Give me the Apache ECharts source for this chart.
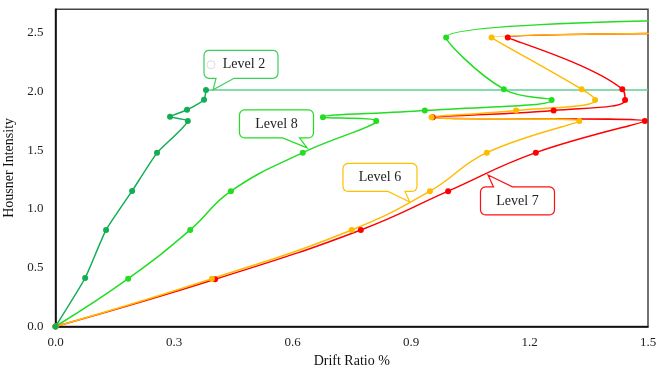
<!DOCTYPE html>
<html>
<head>
<meta charset="utf-8">
<script src="https://cdn.jsdelivr.net/npm/echarts@6/dist/echarts.min.js"></script>
<style>html,body{margin:0;padding:0;background:#fff}#c{width:657px;height:368px}</style>
</head>
<body>
<div id="c"></div>
<script>
// Data (x: drift ratio %, y: Housner intensity)
// last point of levels 8/6/7 lies beyond the visible axis (clipped at 1.5)
var level2X = [0, 0.075, 0.128, 0.194, 0.257, 0.335, 0.29, 0.333, 0.376, 0.381];
var level2Y = [0, 0.413, 0.822, 1.154, 1.478, 1.75, 1.785, 1.844, 1.93, 2.014];
var level2LineX = [0.381, 1.5];
var level2LineY = [2.014, 2.014];
var level8X = [0, 0.184, 0.341, 0.444, 0.626, 0.812, 0.677, 0.935, 1.256, 1.135, 0.989, 2.0];
var level8Y = [0, 0.407, 0.822, 1.152, 1.48, 1.75, 1.782, 1.838, 1.929, 2.02, 2.46, 2.62];
var level6X = [0, 0.396, 0.75, 0.948, 1.092, 1.326, 0.952, 1.166, 1.366, 1.332, 1.104, 2.0];
var level6Y = [0, 0.407, 0.822, 1.152, 1.48, 1.75, 1.782, 1.838, 1.929, 2.02, 2.46, 2.5];
var level7X = [0, 0.404, 0.773, 0.994, 1.216, 1.492, 0.955, 1.261, 1.442, 1.435, 1.145, 2.0];
var level7Y = [0, 0.402, 0.822, 1.152, 1.48, 1.75, 1.782, 1.838, 1.929, 2.02, 2.46, 2.5];
var xTicks = [0, 0.3, 0.6, 0.9, 1.2, 1.5];
var yTicks = [0, 0.5, 1.0, 1.5, 2.0, 2.5];

// callouts: label, box centre (data), tip (data), wedge side
var callouts = [
  {text: 'Level 2', cx: 0.4696, cy: 2.232, tx: 0.399, ty: 2.015, side: 'bottom', a: 12, b: 30, color: '#3ccf5a', ring: true},
  {text: 'Level 8', cx: 0.5595, cy: 1.725, tx: 0.637, ty: 1.52, side: 'bottom', a: 43, b: 60, color: '#22dd22'},
  {text: 'Level 6', cx: 0.8215, cy: 1.269, tx: 0.897, ty: 1.06, side: 'bottom', a: 45, b: 62, color: '#ffc000'},
  {text: 'Level 7', cx: 1.1696, cy: 1.069, tx: 1.095, ty: 1.29, side: 'top', a: 13, b: 32, color: '#ff1010'}
];

function pts(xs, ys, lastNoSymbol) {
  return xs.map(function (x, i) {
    var d = {value: [x, ys[i]]};
    if (lastNoSymbol && i === xs.length - 1) d.symbolSize = 0;
    return d;
  });
}

var FONT = 'Liberation Serif';
var chart = echarts.init(document.getElementById('c'), null, {renderer: 'canvas'});

function lineSeries(name, data, color, smooth) {
  return {
    name: name, type: 'line', data: data, smooth: smooth,
    symbol: 'circle', symbolSize: 6,
    lineStyle: {color: color, width: 1.5},
    itemStyle: {color: color},
    clip: true,
    z: 3
  };
}

var option = {
  animation: false,
  backgroundColor: '#fff',
  grid: {left: 55.5, right: 9, top: 9.3, bottom: 41.5, containLabel: false, outerBoundsMode: 'none',
    show: true, borderColor: '#444', borderWidth: 1.5},
  xAxis: {
    type: 'value', min: 0, max: 1.5, interval: 0.3,
    name: 'Drift Ratio %', nameLocation: 'middle', nameGap: 23,
    nameTextStyle: {fontFamily: FONT, fontSize: 14, color: '#111'},
    axisLine: {show: true, lineStyle: {color: '#000', width: 1.5}},
    axisTick: {show: false},
    splitLine: {show: false},
    axisLabel: {fontFamily: FONT, fontSize: 13, color: '#222', margin: 10,
      formatter: function (v) { return v.toFixed(1); }}
  },
  yAxis: {
    type: 'value', min: 0, max: 2.7, interval: 0.5,
    name: 'Housner Intensity', nameLocation: 'middle', nameGap: 33,
    nameTextStyle: {fontFamily: FONT, fontSize: 14, color: '#111'},
    axisLine: {show: true, lineStyle: {color: '#000', width: 1.5}},
    axisTick: {show: false},
    splitLine: {show: false},
    axisLabel: {fontFamily: FONT, fontSize: 13, color: '#222', margin: 12,
      formatter: function (v) {
        for (var i = 0; i < yTicks.length; i++) if (Math.abs(yTicks[i] - v) < 1e-6) return v.toFixed(1);
        return '';
      }}
  },
  series: [
    {name: 'Level 2 line', type: 'line', data: pts(level2LineX, level2LineY, false), symbol: 'none',
      lineStyle: {color: '#5fd193', width: 1.5}, z: 2},
    lineSeries('Level 8', pts(level8X, level8Y, true), '#22dd22', 0.45),
    lineSeries('Level 7', pts(level7X, level7Y, true), '#ff0000', 0.45),
    lineSeries('Level 6', pts(level6X, level6Y, true), '#ffbb00', 0.45),
    lineSeries('Level 2', pts(level2X, level2Y, false), '#12ad55', 0.15)
  ]
};
chart.setOption(option);

// rounded-corner polygon helper
function corner(out, cx, cy, r, a0, a1) {
  for (var k = 0; k <= 4; k++) {
    var t = a0 + (a1 - a0) * k / 4;
    out.push([cx + r * Math.cos(t), cy + r * Math.sin(t)]);
  }
}

var W = 74, H = 28, R = 5, PI = Math.PI;
var elements = [];
callouts.forEach(function (c) {
  var cp = chart.convertToPixel({gridIndex: 0}, [c.cx, c.cy]);
  var tp = chart.convertToPixel({gridIndex: 0}, [c.tx, c.ty]);
  var x0 = cp[0] - W / 2, y0 = cp[1] - H / 2, x1 = x0 + W, y1 = y0 + H;
  var a = x0 + c.a, b = x0 + c.b;
  var p = [];
  corner(p, x0 + R, y0 + R, R, PI, 1.5 * PI);
  if (c.side === 'top') { p.push([a, y0]); p.push([tp[0], tp[1]]); p.push([b, y0]); }
  corner(p, x1 - R, y0 + R, R, 1.5 * PI, 2 * PI);
  corner(p, x1 - R, y1 - R, R, 0, 0.5 * PI);
  if (c.side === 'bottom') { p.push([b, y1]); p.push([tp[0], tp[1]]); p.push([a, y1]); }
  corner(p, x0 + R, y1 - R, R, 0.5 * PI, PI);
  elements.push({type: 'polygon', shape: {points: p}, style: {fill: '#fff', stroke: c.color, lineWidth: 1.2}, z: 10});
  if (c.ring) {
    elements.push({type: 'circle', shape: {cx: x0 + 7, cy: cp[1] + 0.5, r: 4}, style: {fill: 'none', stroke: '#dcdcdc', lineWidth: 1}, z: 11});
  }
  elements.push({type: 'text', x: cp[0] + (c.ring ? 3 : 0), y: cp[1],
    style: {text: c.text, fill: '#222', font: '14px "' + FONT + '"', align: 'center', verticalAlign: 'middle'}, z: 11});
});
chart.setOption({graphic: {elements: elements}});
</script>
</body>
</html>
